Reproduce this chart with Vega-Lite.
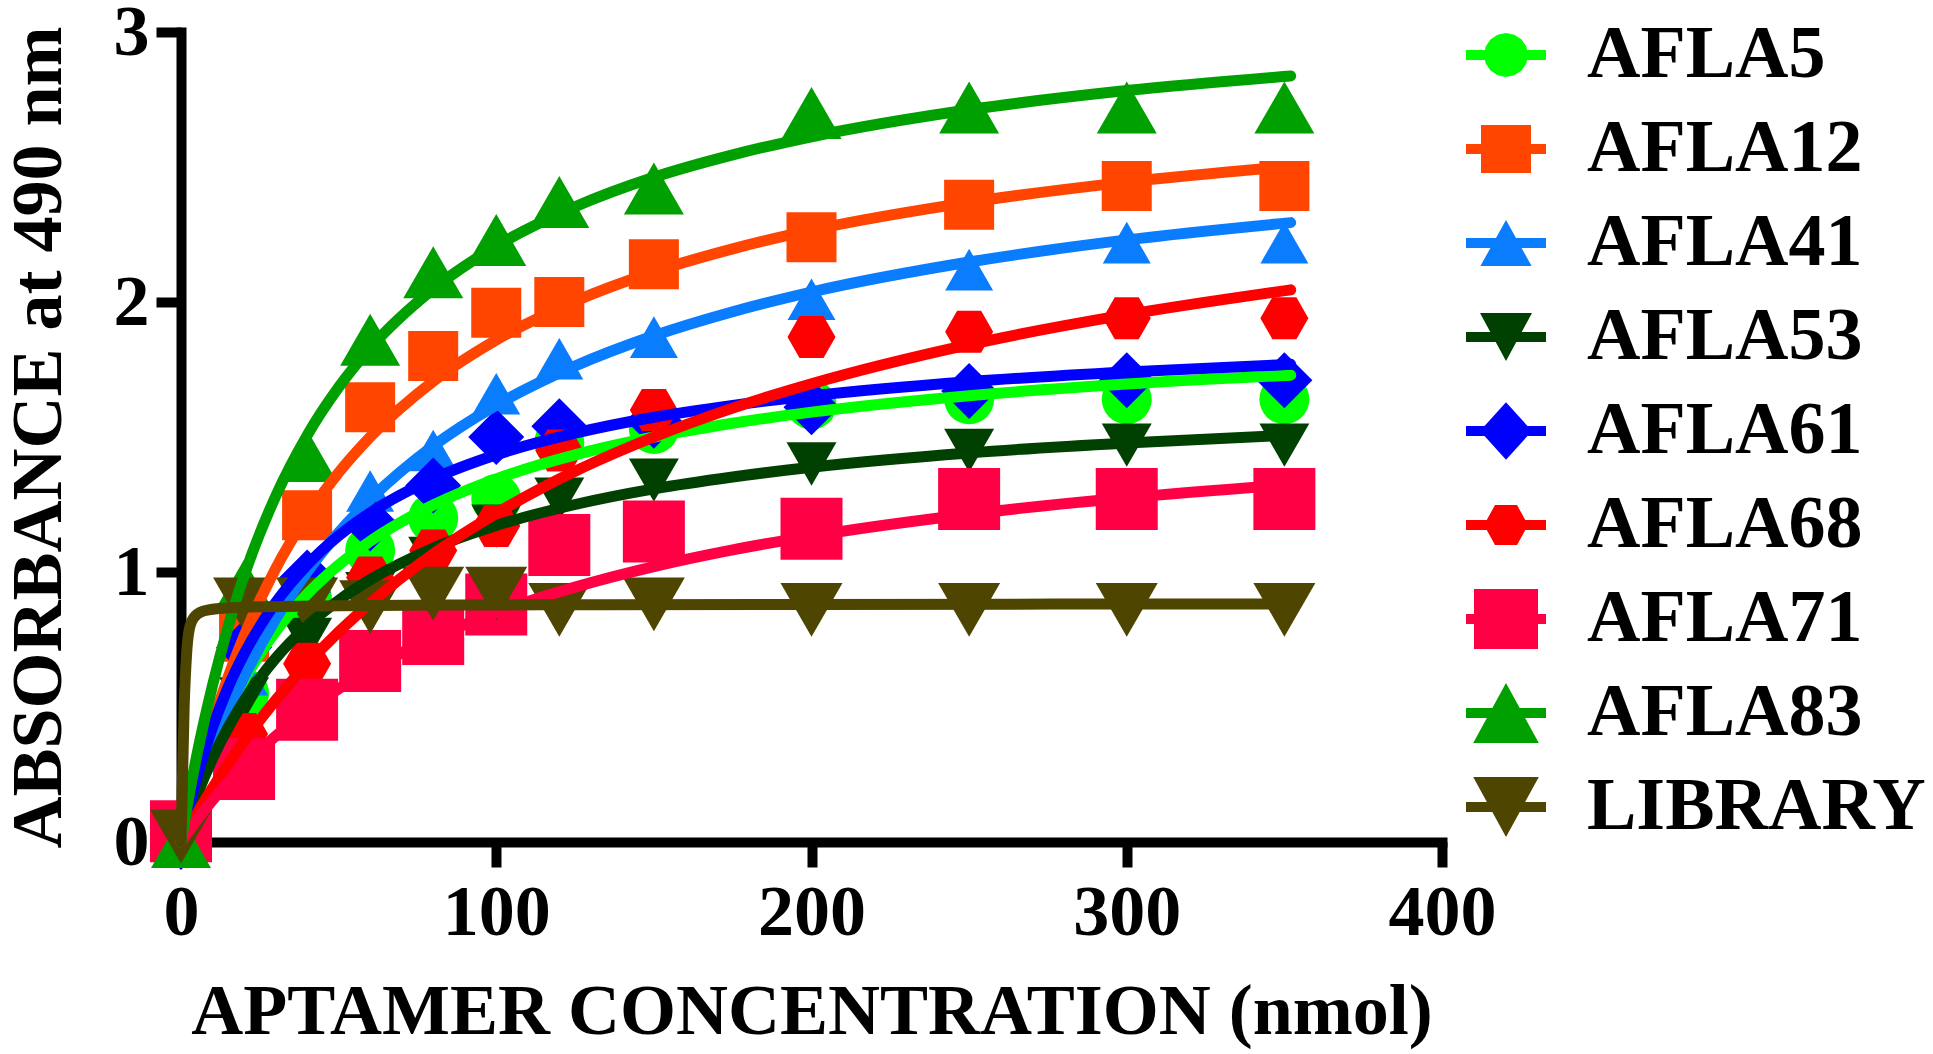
{
  "$schema": "https://vega.github.io/schema/vega-lite/v6.json",
  "width": 1261,
  "height": 810,
  "autosize": {"type": "none"},
  "padding": {"left": 181, "top": 32, "right": 491, "bottom": 212},
  "background": "white",
  "config": {"view": {"stroke": null}, "font": "Liberation Serif"},
  "datasets": {
    "pts": [
      {"s": "AFLA5", "x": 0, "y": 0}, {"s": "AFLA5", "x": 20, "y": 0.55}, {"s": "AFLA5", "x": 40, "y": 0.9}, {"s": "AFLA5", "x": 60, "y": 1.08}, {"s": "AFLA5", "x": 80, "y": 1.2}, {"s": "AFLA5", "x": 100, "y": 1.27}, {"s": "AFLA5", "x": 120, "y": 1.48}, {"s": "AFLA5", "x": 150, "y": 1.53}, {"s": "AFLA5", "x": 200, "y": 1.62}, {"s": "AFLA5", "x": 250, "y": 1.64}, {"s": "AFLA5", "x": 300, "y": 1.64}, {"s": "AFLA5", "x": 350, "y": 1.64},
      {"s": "AFLA12", "x": 0, "y": 0}, {"s": "AFLA12", "x": 20, "y": 0.76}, {"s": "AFLA12", "x": 40, "y": 1.21}, {"s": "AFLA12", "x": 60, "y": 1.61}, {"s": "AFLA12", "x": 80, "y": 1.8}, {"s": "AFLA12", "x": 100, "y": 1.96}, {"s": "AFLA12", "x": 120, "y": 2.0}, {"s": "AFLA12", "x": 150, "y": 2.14}, {"s": "AFLA12", "x": 200, "y": 2.24}, {"s": "AFLA12", "x": 250, "y": 2.36}, {"s": "AFLA12", "x": 300, "y": 2.43}, {"s": "AFLA12", "x": 350, "y": 2.43},
      {"s": "AFLA41", "x": 0, "y": 0}, {"s": "AFLA41", "x": 20, "y": 0.62}, {"s": "AFLA41", "x": 40, "y": 1.0}, {"s": "AFLA41", "x": 60, "y": 1.3}, {"s": "AFLA41", "x": 80, "y": 1.45}, {"s": "AFLA41", "x": 100, "y": 1.66}, {"s": "AFLA41", "x": 120, "y": 1.79}, {"s": "AFLA41", "x": 150, "y": 1.87}, {"s": "AFLA41", "x": 200, "y": 2.01}, {"s": "AFLA41", "x": 250, "y": 2.12}, {"s": "AFLA41", "x": 300, "y": 2.22}, {"s": "AFLA41", "x": 350, "y": 2.22},
      {"s": "AFLA53", "x": 0, "y": 0}, {"s": "AFLA53", "x": 20, "y": 0.53}, {"s": "AFLA53", "x": 40, "y": 0.75}, {"s": "AFLA53", "x": 60, "y": 0.92}, {"s": "AFLA53", "x": 80, "y": 1.05}, {"s": "AFLA53", "x": 100, "y": 1.17}, {"s": "AFLA53", "x": 120, "y": 1.27}, {"s": "AFLA53", "x": 150, "y": 1.34}, {"s": "AFLA53", "x": 200, "y": 1.4}, {"s": "AFLA53", "x": 250, "y": 1.45}, {"s": "AFLA53", "x": 300, "y": 1.47}, {"s": "AFLA53", "x": 350, "y": 1.47},
      {"s": "AFLA61", "x": 0, "y": 0}, {"s": "AFLA61", "x": 20, "y": 0.72}, {"s": "AFLA61", "x": 40, "y": 0.98}, {"s": "AFLA61", "x": 60, "y": 1.18}, {"s": "AFLA61", "x": 80, "y": 1.32}, {"s": "AFLA61", "x": 100, "y": 1.5}, {"s": "AFLA61", "x": 120, "y": 1.54}, {"s": "AFLA61", "x": 150, "y": 1.56}, {"s": "AFLA61", "x": 200, "y": 1.61}, {"s": "AFLA61", "x": 250, "y": 1.67}, {"s": "AFLA61", "x": 300, "y": 1.71}, {"s": "AFLA61", "x": 350, "y": 1.71},
      {"s": "AFLA68", "x": 0, "y": 0}, {"s": "AFLA68", "x": 20, "y": 0.4}, {"s": "AFLA68", "x": 40, "y": 0.66}, {"s": "AFLA68", "x": 60, "y": 0.98}, {"s": "AFLA68", "x": 80, "y": 1.08}, {"s": "AFLA68", "x": 100, "y": 1.17}, {"s": "AFLA68", "x": 120, "y": 1.45}, {"s": "AFLA68", "x": 150, "y": 1.6}, {"s": "AFLA68", "x": 200, "y": 1.87}, {"s": "AFLA68", "x": 250, "y": 1.89}, {"s": "AFLA68", "x": 300, "y": 1.94}, {"s": "AFLA68", "x": 350, "y": 1.94},
      {"s": "AFLA71", "x": 0, "y": 0.04}, {"s": "AFLA71", "x": 20, "y": 0.27}, {"s": "AFLA71", "x": 40, "y": 0.49}, {"s": "AFLA71", "x": 60, "y": 0.67}, {"s": "AFLA71", "x": 80, "y": 0.77}, {"s": "AFLA71", "x": 100, "y": 0.88}, {"s": "AFLA71", "x": 120, "y": 1.1}, {"s": "AFLA71", "x": 150, "y": 1.15}, {"s": "AFLA71", "x": 200, "y": 1.16}, {"s": "AFLA71", "x": 250, "y": 1.27}, {"s": "AFLA71", "x": 300, "y": 1.27}, {"s": "AFLA71", "x": 350, "y": 1.27},
      {"s": "AFLA83", "x": 0, "y": 0}, {"s": "AFLA83", "x": 20, "y": 0.95}, {"s": "AFLA83", "x": 40, "y": 1.43}, {"s": "AFLA83", "x": 60, "y": 1.86}, {"s": "AFLA83", "x": 80, "y": 2.11}, {"s": "AFLA83", "x": 100, "y": 2.23}, {"s": "AFLA83", "x": 120, "y": 2.37}, {"s": "AFLA83", "x": 150, "y": 2.42}, {"s": "AFLA83", "x": 200, "y": 2.7}, {"s": "AFLA83", "x": 250, "y": 2.72}, {"s": "AFLA83", "x": 300, "y": 2.72}, {"s": "AFLA83", "x": 350, "y": 2.72},
      {"s": "LIBRARY", "x": 0, "y": 0.02}, {"s": "LIBRARY", "x": 20, "y": 0.88}, {"s": "LIBRARY", "x": 40, "y": 0.88}, {"s": "LIBRARY", "x": 60, "y": 0.87}, {"s": "LIBRARY", "x": 80, "y": 0.92}, {"s": "LIBRARY", "x": 100, "y": 0.92}, {"s": "LIBRARY", "x": 120, "y": 0.86}, {"s": "LIBRARY", "x": 150, "y": 0.88}, {"s": "LIBRARY", "x": 200, "y": 0.86}, {"s": "LIBRARY", "x": 250, "y": 0.86}, {"s": "LIBRARY", "x": 300, "y": 0.86}, {"s": "LIBRARY", "x": 350, "y": 0.86}
    ],
    "crv": [
      {"s": "AFLA5", "x": 0, "y": 0}, {"s": "AFLA5", "x": 2, "y": 0.083}, {"s": "AFLA5", "x": 5, "y": 0.195}, {"s": "AFLA5", "x": 10, "y": 0.355}, {"s": "AFLA5", "x": 15, "y": 0.488}, {"s": "AFLA5", "x": 20, "y": 0.6}, {"s": "AFLA5", "x": 30, "y": 0.78}, {"s": "AFLA5", "x": 40, "y": 0.918}, {"s": "AFLA5", "x": 50, "y": 1.026}, {"s": "AFLA5", "x": 60, "y": 1.114}, {"s": "AFLA5", "x": 80, "y": 1.248}, {"s": "AFLA5", "x": 100, "y": 1.345}, {"s": "AFLA5", "x": 125, "y": 1.434}, {"s": "AFLA5", "x": 150, "y": 1.5}, {"s": "AFLA5", "x": 175, "y": 1.551}, {"s": "AFLA5", "x": 200, "y": 1.592}, {"s": "AFLA5", "x": 250, "y": 1.653}, {"s": "AFLA5", "x": 300, "y": 1.696}, {"s": "AFLA5", "x": 352, "y": 1.729},
      {"s": "AFLA12", "x": 0, "y": 0}, {"s": "AFLA12", "x": 2, "y": 0.1}, {"s": "AFLA12", "x": 5, "y": 0.238}, {"s": "AFLA12", "x": 10, "y": 0.439}, {"s": "AFLA12", "x": 15, "y": 0.613}, {"s": "AFLA12", "x": 20, "y": 0.763}, {"s": "AFLA12", "x": 30, "y": 1.012}, {"s": "AFLA12", "x": 40, "y": 1.208}, {"s": "AFLA12", "x": 50, "y": 1.368}, {"s": "AFLA12", "x": 60, "y": 1.5}, {"s": "AFLA12", "x": 80, "y": 1.706}, {"s": "AFLA12", "x": 100, "y": 1.859}, {"s": "AFLA12", "x": 125, "y": 2.003}, {"s": "AFLA12", "x": 150, "y": 2.112}, {"s": "AFLA12", "x": 175, "y": 2.197}, {"s": "AFLA12", "x": 200, "y": 2.266}, {"s": "AFLA12", "x": 250, "y": 2.369}, {"s": "AFLA12", "x": 300, "y": 2.444}, {"s": "AFLA12", "x": 352, "y": 2.502},
      {"s": "AFLA41", "x": 0, "y": 0}, {"s": "AFLA41", "x": 2, "y": 0.076}, {"s": "AFLA41", "x": 5, "y": 0.183}, {"s": "AFLA41", "x": 10, "y": 0.344}, {"s": "AFLA41", "x": 15, "y": 0.485}, {"s": "AFLA41", "x": 20, "y": 0.611}, {"s": "AFLA41", "x": 30, "y": 0.825}, {"s": "AFLA41", "x": 40, "y": 1.0}, {"s": "AFLA41", "x": 50, "y": 1.146}, {"s": "AFLA41", "x": 60, "y": 1.269}, {"s": "AFLA41", "x": 80, "y": 1.467}, {"s": "AFLA41", "x": 100, "y": 1.618}, {"s": "AFLA41", "x": 125, "y": 1.763}, {"s": "AFLA41", "x": 150, "y": 1.875}, {"s": "AFLA41", "x": 175, "y": 1.964}, {"s": "AFLA41", "x": 200, "y": 2.037}, {"s": "AFLA41", "x": 250, "y": 2.148}, {"s": "AFLA41", "x": 300, "y": 2.23}, {"s": "AFLA41", "x": 352, "y": 2.294},
      {"s": "AFLA53", "x": 0, "y": 0}, {"s": "AFLA53", "x": 2, "y": 0.072}, {"s": "AFLA53", "x": 5, "y": 0.17}, {"s": "AFLA53", "x": 10, "y": 0.309}, {"s": "AFLA53", "x": 15, "y": 0.425}, {"s": "AFLA53", "x": 20, "y": 0.523}, {"s": "AFLA53", "x": 30, "y": 0.68}, {"s": "AFLA53", "x": 40, "y": 0.8}, {"s": "AFLA53", "x": 50, "y": 0.895}, {"s": "AFLA53", "x": 60, "y": 0.971}, {"s": "AFLA53", "x": 80, "y": 1.088}, {"s": "AFLA53", "x": 100, "y": 1.172}, {"s": "AFLA53", "x": 125, "y": 1.25}, {"s": "AFLA53", "x": 150, "y": 1.308}, {"s": "AFLA53", "x": 175, "y": 1.352}, {"s": "AFLA53", "x": 200, "y": 1.388}, {"s": "AFLA53", "x": 250, "y": 1.441}, {"s": "AFLA53", "x": 300, "y": 1.478}, {"s": "AFLA53", "x": 352, "y": 1.507},
      {"s": "AFLA61", "x": 0, "y": 0}, {"s": "AFLA61", "x": 2, "y": 0.103}, {"s": "AFLA61", "x": 5, "y": 0.238}, {"s": "AFLA61", "x": 10, "y": 0.424}, {"s": "AFLA61", "x": 15, "y": 0.574}, {"s": "AFLA61", "x": 20, "y": 0.696}, {"s": "AFLA61", "x": 30, "y": 0.886}, {"s": "AFLA61", "x": 40, "y": 1.026}, {"s": "AFLA61", "x": 50, "y": 1.134}, {"s": "AFLA61", "x": 60, "y": 1.219}, {"s": "AFLA61", "x": 80, "y": 1.345}, {"s": "AFLA61", "x": 100, "y": 1.434}, {"s": "AFLA61", "x": 125, "y": 1.514}, {"s": "AFLA61", "x": 150, "y": 1.573}, {"s": "AFLA61", "x": 175, "y": 1.617}, {"s": "AFLA61", "x": 200, "y": 1.653}, {"s": "AFLA61", "x": 250, "y": 1.705}, {"s": "AFLA61", "x": 300, "y": 1.741}, {"s": "AFLA61", "x": 352, "y": 1.769},
      {"s": "AFLA68", "x": 0, "y": 0}, {"s": "AFLA68", "x": 2, "y": 0.042}, {"s": "AFLA68", "x": 5, "y": 0.104}, {"s": "AFLA68", "x": 10, "y": 0.2}, {"s": "AFLA68", "x": 15, "y": 0.29}, {"s": "AFLA68", "x": 20, "y": 0.373}, {"s": "AFLA68", "x": 30, "y": 0.525}, {"s": "AFLA68", "x": 40, "y": 0.659}, {"s": "AFLA68", "x": 50, "y": 0.778}, {"s": "AFLA68", "x": 60, "y": 0.884}, {"s": "AFLA68", "x": 80, "y": 1.067}, {"s": "AFLA68", "x": 100, "y": 1.217}, {"s": "AFLA68", "x": 125, "y": 1.373}, {"s": "AFLA68", "x": 150, "y": 1.5}, {"s": "AFLA68", "x": 175, "y": 1.607}, {"s": "AFLA68", "x": 200, "y": 1.697}, {"s": "AFLA68", "x": 250, "y": 1.842}, {"s": "AFLA68", "x": 300, "y": 1.953}, {"s": "AFLA68", "x": 352, "y": 2.045},
      {"s": "AFLA71", "x": 0, "y": 0}, {"s": "AFLA71", "x": 2, "y": 0.033}, {"s": "AFLA71", "x": 5, "y": 0.081}, {"s": "AFLA71", "x": 10, "y": 0.155}, {"s": "AFLA71", "x": 15, "y": 0.222}, {"s": "AFLA71", "x": 20, "y": 0.283}, {"s": "AFLA71", "x": 30, "y": 0.392}, {"s": "AFLA71", "x": 40, "y": 0.486}, {"s": "AFLA71", "x": 50, "y": 0.567}, {"s": "AFLA71", "x": 60, "y": 0.638}, {"s": "AFLA71", "x": 80, "y": 0.756}, {"s": "AFLA71", "x": 100, "y": 0.85}, {"s": "AFLA71", "x": 125, "y": 0.944}, {"s": "AFLA71", "x": 150, "y": 1.02}, {"s": "AFLA71", "x": 175, "y": 1.082}, {"s": "AFLA71", "x": 200, "y": 1.133}, {"s": "AFLA71", "x": 250, "y": 1.214}, {"s": "AFLA71", "x": 300, "y": 1.275}, {"s": "AFLA71", "x": 352, "y": 1.324},
      {"s": "AFLA83", "x": 0, "y": 0}, {"s": "AFLA83", "x": 2, "y": 0.136}, {"s": "AFLA83", "x": 5, "y": 0.32}, {"s": "AFLA83", "x": 10, "y": 0.58}, {"s": "AFLA83", "x": 15, "y": 0.8}, {"s": "AFLA83", "x": 20, "y": 0.985}, {"s": "AFLA83", "x": 30, "y": 1.28}, {"s": "AFLA83", "x": 40, "y": 1.506}, {"s": "AFLA83", "x": 50, "y": 1.684}, {"s": "AFLA83", "x": 60, "y": 1.829}, {"s": "AFLA83", "x": 80, "y": 2.048}, {"s": "AFLA83", "x": 100, "y": 2.207}, {"s": "AFLA83", "x": 125, "y": 2.353}, {"s": "AFLA83", "x": 150, "y": 2.462}, {"s": "AFLA83", "x": 175, "y": 2.545}, {"s": "AFLA83", "x": 200, "y": 2.612}, {"s": "AFLA83", "x": 250, "y": 2.712}, {"s": "AFLA83", "x": 300, "y": 2.783}, {"s": "AFLA83", "x": 352, "y": 2.837},
      {"s": "LIBRARY", "x": 0, "y": 0}, {"s": "LIBRARY", "x": 1, "y": 0.5}, {"s": "LIBRARY", "x": 1.8, "y": 0.7}, {"s": "LIBRARY", "x": 2.5, "y": 0.78}, {"s": "LIBRARY", "x": 4, "y": 0.83}, {"s": "LIBRARY", "x": 7, "y": 0.855}, {"s": "LIBRARY", "x": 12, "y": 0.865}, {"s": "LIBRARY", "x": 20, "y": 0.87}, {"s": "LIBRARY", "x": 50, "y": 0.875}, {"s": "LIBRARY", "x": 100, "y": 0.878}, {"s": "LIBRARY", "x": 200, "y": 0.88}, {"s": "LIBRARY", "x": 352, "y": 0.882}
    ]
  },
  "encoding": {
    "x": {
      "field": "x", "type": "quantitative",
      "scale": {"domain": [0, 400], "nice": false, "zero": false},
      "axis": {
        "values": [0, 100, 200, 300, 400], "grid": false,
        "title": "APTAMER CONCENTRATION (nmol)",
        "domainColor": "black", "domainWidth": 10, "domainCap": "square",
        "tickColor": "black", "tickWidth": 10, "tickSize": 25,
        "labelFont": "Liberation Serif", "labelFontWeight": "bold", "labelFontSize": 72, "labelColor": "black",
        "labelPadding": 10, "labelFlush": false, "labelOverlap": false,
        "titleFont": "Liberation Serif", "titleFontWeight": "bold", "titleFontSize": 72, "titleColor": "black",
        "titlePadding": 28
      }
    },
    "y": {
      "field": "y", "type": "quantitative",
      "scale": {"domain": [0, 3], "nice": false},
      "axis": {
        "values": [0, 1, 2, 3], "grid": false,
        "title": "ABSORBANCE at 490 nm",
        "domainColor": "black", "domainWidth": 10, "domainCap": "square",
        "tickColor": "black", "tickWidth": 10, "tickSize": 25,
        "labelFont": "Liberation Serif", "labelFontWeight": "bold", "labelFontSize": 72, "labelColor": "black",
        "labelPadding": 7, "labelFlush": false, "labelOverlap": false,
        "titleFont": "Liberation Serif", "titleFontWeight": "bold", "titleFontSize": 72, "titleColor": "black",
        "titlePadding": 38
      }
    },
    "color": {
      "field": "s", "type": "nominal",
      "scale": {
        "domain": ["AFLA5", "AFLA12", "AFLA41", "AFLA53", "AFLA61", "AFLA68", "AFLA71", "AFLA83", "LIBRARY"],
        "range": ["#00FF00", "#FF4500", "#0A7DFF", "#004000", "#0000FF", "#FF0000", "#FF0044", "#00A000", "#4D4500"]
      },
      "legend": {
        "orient": "none", "legendX": 1285, "legendY": -17,
        "title": null, "padding": 0,
        "symbolSize": 6400, "symbolStrokeWidth": 0, "symbolOffset": 0,
        "labelFont": "Liberation Serif", "labelFontWeight": "bold", "labelFontSize": 74, "labelColor": "black",
        "labelOffset": 41, "labelLimit": 0, "rowPadding": 17,
        "encode": {
          "symbols": {
            "update": {
              "fill": {"signal": "scale('color', datum.value)"},
              "stroke": {"value": "transparent"},
              "opacity": {"value": 1},
              "shape": {"signal": "datum.value === 'AFLA5' ? 'M-1,-0.125H1V0.125H-1ZM0.55,0L0.508,0.21L0.389,0.389L0.21,0.508L0,0.55L-0.21,0.508L-0.389,0.389L-0.508,0.21L-0.55,0L-0.508,-0.21L-0.389,-0.389L-0.21,-0.508L0,-0.55L0.21,-0.508L0.389,-0.389L0.508,-0.21Z' : datum.value === 'AFLA12' ? 'M-1,-0.125H1V0.125H-1ZM-0.625,-0.6H0.625V0.6H-0.625Z' : datum.value === 'AFLA41' ? 'M-1,-0.125H1V0.125H-1ZM0,-0.575L0.64,0.575H-0.64Z' : datum.value === 'AFLA53' ? 'M-1,-0.125H1V0.125H-1ZM-0.65,-0.6H0.65L0,0.6Z' : datum.value === 'AFLA61' ? 'M-1,-0.125H1V0.125H-1ZM0,-0.72L0.65,0L0,0.72L-0.65,0Z' : datum.value === 'AFLA68' ? 'M-1,-0.125H1V0.125H-1ZM-0.55,0L-0.275,-0.5H0.275L0.55,0L0.275,0.5H-0.275Z' : datum.value === 'AFLA71' ? 'M-1,-0.125H1V0.125H-1ZM-0.8,-0.75H0.8V0.75H-0.8Z' : datum.value === 'AFLA83' ? 'M-1,-0.125H1V0.125H-1ZM0,-0.75L0.82,0.75H-0.82Z' : 'M-1,-0.125H1V0.125H-1ZM-0.82,-0.75H0.82L0,0.75Z'"}
            }
          }
        }
      }
    }
  },
  "layer": [
    {
      "data": {"name": "pts"},
      "mark": {"type": "point", "filled": true, "opacity": 1, "strokeWidth": 0},
      "encoding": {
        "shape": {
          "field": "s", "type": "nominal", "legend": null,
          "scale": {
            "domain": ["LIBRARY", "AFLA5", "AFLA12", "AFLA41", "AFLA53", "AFLA61", "AFLA68", "AFLA71", "AFLA83"],
            "range": ["triangle-down", "circle", "square", "triangle-up", "triangle-down", "diamond", "M-1,0L-0.5,-0.875L0.5,-0.875L1,0L0.5,0.875L-0.5,0.875Z", "square", "triangle-up"]
          }
        },
        "size": {
          "field": "s", "type": "nominal", "legend": null,
          "scale": {
            "type": "ordinal",
            "domain": ["LIBRARY", "AFLA5", "AFLA12", "AFLA41", "AFLA53", "AFLA61", "AFLA68", "AFLA71", "AFLA83"],
            "range": [3844, 2500, 2500, 2304, 2500, 3136, 2304, 3844, 3600]
          }
        }
      }
    },
    {
      "data": {"name": "crv"},
      "mark": {"type": "line", "strokeWidth": 11, "interpolate": "monotone", "strokeCap": "round", "strokeJoin": "round"}
    }
  ]
}
